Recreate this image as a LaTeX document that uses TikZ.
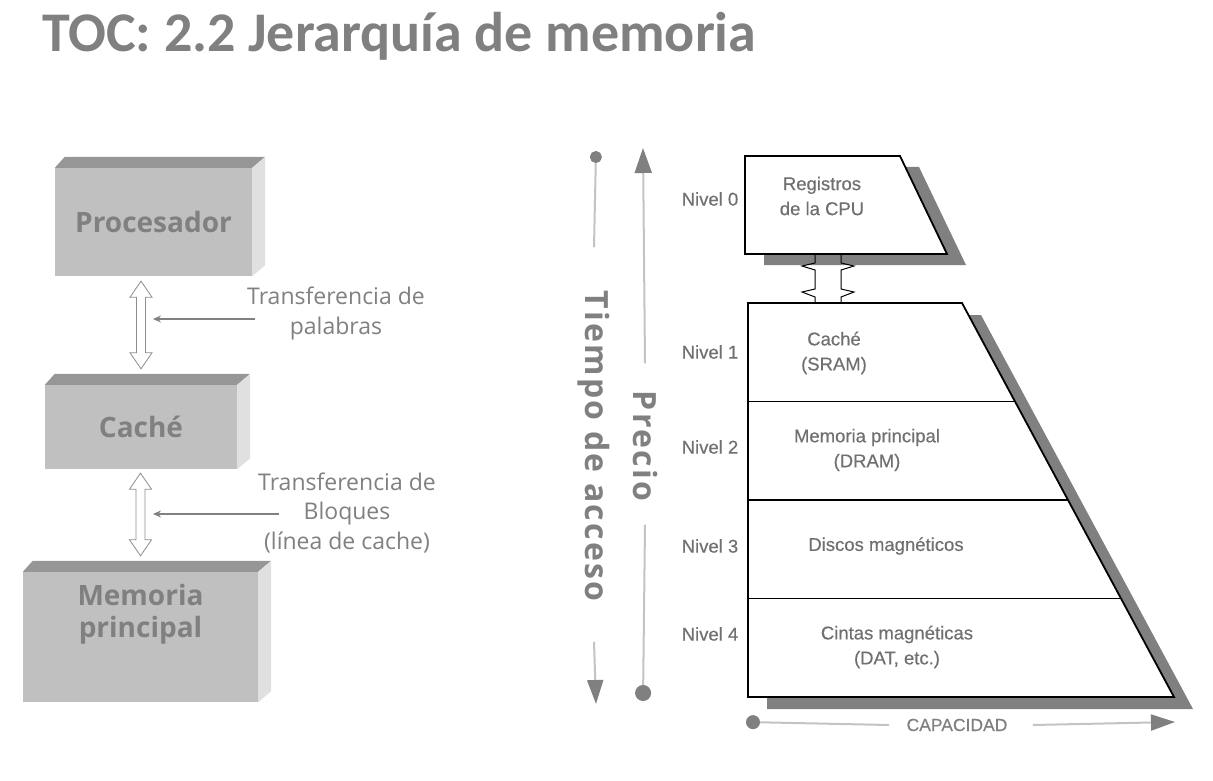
\documentclass[tikz,border=0pt]{standalone}
\usepackage{fontspec}
\setmainfont{Open Sans}
\newfontfamily\titlefont{Carlito}
\newfontfamily\lvlfont[FakeBold=0.4]{Liberation Sans}
\newfontfamily\axfont[LetterSpace=7]{Open Sans}
\usepackage{tikz}
\usetikzlibrary{positioning,arrows.meta,calc}
\definecolor{txtgray}{RGB}{128,128,128}
\definecolor{frontgray}{RGB}{192,192,192}
\definecolor{topgray}{RGB}{150,150,150}
\definecolor{sidegray}{RGB}{224,224,224}
\definecolor{shadegray}{RGB}{128,128,128}
\definecolor{linegray}{RGB}{195,195,195}
\definecolor{lvlgray}{RGB}{112,112,112}

\begin{document}
\begin{tikzpicture}[x=1pt,y=-1pt,
  blk/.style={fill=frontgray,inner sep=0pt,font=\bfseries\fontsize{28}{32}\selectfont,text=txtgray,align=center},
  topf/.style={fill=topgray},
  sidef/.style={fill=sidegray},
  lbl/.style={font=\fontsize{23}{29.5}\selectfont,text=txtgray,align=center},
  ptr/.style={draw=txtgray,line width=1.3pt,-{Stealth[length=8pt,width=7pt]}},
  dblarr/.style={draw=txtgray!90,fill=white,line width=0.8pt},
  lvl/.style={font=\lvlfont\fontsize{18.5}{25}\selectfont,text=lvlgray,align=center},
  pyr/.style={draw=black,fill=white,line width=1.8pt,line join=miter},
  shd/.style={fill=shadegray},
  axl/.style={draw=linegray,line width=2pt},
  axt/.style={font=\axfont\bfseries\fontsize{32}{32}\selectfont,text=txtgray}
]
\useasboundingbox (0,0) rectangle (1213,781);
% title
\node[anchor=base west,inner sep=0pt,text=txtgray,font=\titlefont\bfseries\fontsize{56}{60}\selectfont]
  (title) at (42,52) {TOC: 2.2 Jerarquía de memoria};

% left column: 3d blocks
\node[blk,minimum width=197,minimum height=108] (proc)  at (153.5,222) {Procesador};
\node[blk,minimum width=192,minimum height=84]  (cache) at (141,427) {Caché};
\node[blk,minimum width=235,minimum height=130] (mem)   at (140.5,637) {};
\node[blk,fill=none] (memtxt) at (140.5,614) {Memoria\\principal};
\foreach \b in {proc,cache,mem}
  { \fill[topf] (\b.north west) -- ($(\b.north west)+(10,-11)$) -- ($(\b.north east)+(13,-11)$) -- (\b.north east) -- cycle;
    \fill[sidef] (\b.north east) -- ($(\b.north east)+(13,-11)$) -- ($(\b.south east)+(13,-11)$) -- (\b.south east) -- cycle; }

% hollow double arrows between blocks
\foreach \u/\l/\o in {proc/cache/5, cache/mem/4}
  \draw[dblarr] let \p1=($(\u.south)+(0,\o)$), \p2=($(\l.north)+(0,-16)$) in
    (\x2,\y1) -- (\x2+11pt,\y1-16pt) -- (\x2+4.5pt,\y1-16pt) -- (\x2+4.5pt,\y2+16pt) -- (\x2+11pt,\y2+16pt) -- (\x2,\y2)
    -- (\x2-11pt,\y2+16pt) -- (\x2-4.5pt,\y2+16pt) -- (\x2-4.5pt,\y1-16pt) -- (\x2-11pt,\y1-16pt) -- cycle;

% transfer labels
\node[lbl] (lblA) at (336,313.5) {Transferencia de\\palabras};
\node[lbl] (lblB) at (347,513) {Transferencia de\\Bloques\\(línea de cache)};
\coordinate (tipA) at (153,319);
\coordinate (tipB) at (153,514);
\draw[ptr] (lblA.west |- tipA) ++(11,0) -- (tipA);
\draw[ptr] (lblB.west |- tipB) ++(24,0) -- (tipB);

% right: pyramid
\coordinate (l0b) at (828,254);
\coordinate (l1t) at (828,303);
\fill[shd] (764,167) -- (919,167) -- (966,265) -- (764,265) -- cycle;
\fill[shd] (767,315) -- (981,315) -- (1193,709) -- (767,709) -- cycle;
\foreach \s in {-1,1}
  { \draw[draw=black,line width=1pt] ($(l0b)+(13*\s,0)$) -- ++(0,9) -- ++(13*\s,3) -- ++(-13*\s,4) -- ++(0,19)
      -- ++(13*\s,3) -- ++(-13*\s,5) -- ($(l1t)+(13*\s,0)$); }
\draw[pyr] (745,156) -- (900,156) -- (947,254) -- (745,254) -- cycle;
\draw[pyr] (748,303) coordinate (tl) -- (962,303) coordinate (tr) -- (1174,697) coordinate (br) -- (748,697) coordinate (bl) -- cycle;
\foreach \f in {0.25,0.5,0.75}
  { \draw[pyr] ($(tl)!\f!(bl)$) -- ($(tr)!\f!(br)$); }

\node[lvl] (reg)  at (822,196) {Registros\\de la CPU};
\node[lvl] (sram) at (834,353) {Caché\\(SRAM)};
\node[lvl] (dram) at (867,450) {Memoria principal\\(DRAM)};
\node[lvl] (disc) at (886,546) {Discos magnéticos};
\node[lvl] (tape) at (897,647) {Cintas magnéticas\\(DAT, etc.)};
\foreach \i/\y in {0/199,1/352,2/447,3/546,4/634}
  { \node[lvl] (niv\i) at (710,\y) {Nivel \i}; }

% axes
\node[axt,rotate=-90] (tiempo) at (594,446) {Tiempo de acceso};
\node[axt,rotate=-90] (precio) at (645,446) {Precio};
\node[font=\lvlfont\fontsize{17.5}{20}\selectfont,text=txtgray] (capac) at (957,725) {CAPACIDAD};
\coordinate (tTop) at (596,151);
\coordinate (tBot) at (596,704);
\coordinate (pTop) at (643,148);
\coordinate (pBot) at (643,701);
\coordinate (cL) at (746,722);
\coordinate (cR) at (1175,722);
\draw[axl,{Circle[length=12pt,color=txtgray]}-] (tTop) -- ($(tiempo.west)+(0,-40)$);
\draw[axl,-{Triangle[length=24pt,width=16pt,color=txtgray]}] ($(tiempo.east)+(0,37)$) -- (tBot);
\draw[axl,-{Triangle[length=25pt,width=17pt,color=txtgray]}] ($(precio.west)+(0,-24)$) -- (pTop);
\draw[axl,-{Circle[length=16pt,color=txtgray]}] ($(precio.east)+(0,20)$) -- (pBot);
\draw[axl,{Circle[length=14pt,color=txtgray]}-] (cL) -- ($(capac.west)+(-14,0)$);
\draw[axl,-{Triangle[length=24pt,width=16pt,color=txtgray]}] ($(capac.east)+(22,0)$) -- (cR);
\end{tikzpicture}
\end{document}
